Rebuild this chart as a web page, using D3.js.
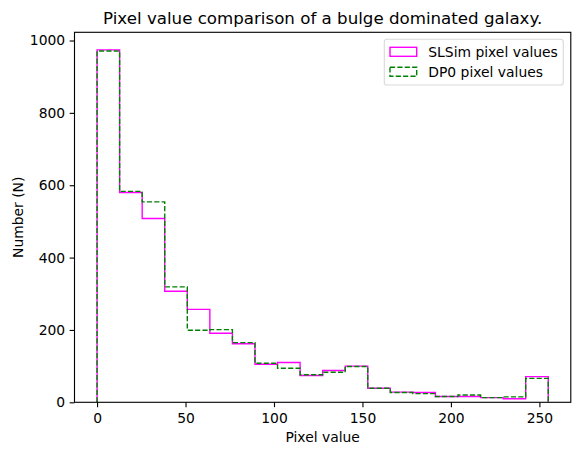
<!DOCTYPE html>
<html>
<head>
<meta charset="utf-8">
<script src="https://cdn.jsdelivr.net/npm/d3@7"></script>
<style>
  body { margin: 0; background: #fff; }
  svg text { font-family: "DejaVu Sans", sans-serif; fill: #000; }
</style>
</head>
<body>
<div id="chart"></div>
<script>
// Histogram data: 20 bins over 0..255
const binEdges = d3.range(21).map(i => i * 12.75);
const slsimCounts = [974, 580, 508, 307, 257, 191, 162, 105, 110, 74, 88, 100, 39, 28, 27, 16, 16, 13, 10, 71];
const dp0Counts   = [971, 583, 554, 319, 199, 201, 165, 108, 94, 76, 83, 99, 39, 27, 24, 16, 20, 13, 15, 66];
const xTicks = [0, 50, 100, 150, 200, 250];
const yTicks = [0, 200, 400, 600, 800, 1000];

const width = 580, height = 455;
const margin = { left: 74.5, top: 32.3 };
const plotW = 496.3, plotH = 370;

const svg = d3.select("#chart").append("svg")
  .attr("width", width)
  .attr("height", height);

const g = svg.append("g").attr("transform", `translate(${margin.left},${margin.top})`);

const ymax = d3.max(slsimCounts.concat(dp0Counts)) * 1.05;
const x = d3.scaleLinear().domain([-12.75, 267.75]).range([0, plotW]);
const y = d3.scaleLinear().domain([0, ymax]).range([plotH, 0]);

// step outline like matplotlib histtype='step'
function stepPoints(counts) {
  const pts = [[binEdges[0], 0]];
  counts.forEach((c, i) => {
    pts.push([binEdges[i], c]);
    pts.push([binEdges[i + 1], c]);
  });
  pts.push([binEdges[binEdges.length - 1], 0]);
  return pts;
}
const line = d3.line().x(d => x(d[0])).y(d => y(d[1]));

const clip = g.append("clipPath").attr("id", "clip")
  .append("rect").attr("width", plotW).attr("height", plotH);

const plot = g.append("g").attr("clip-path", "url(#clip)");

plot.append("path")
  .attr("d", line(stepPoints(slsimCounts)))
  .attr("fill", "none")
  .attr("stroke", "#ff00ff")
  .attr("stroke-width", 1.39);

plot.append("path")
  .attr("d", line(stepPoints(dp0Counts)))
  .attr("fill", "none")
  .attr("stroke", "#008000")
  .attr("stroke-width", 1.39)
  .attr("stroke-dasharray", "5.14,2.22");

// axes
const xAxis = g.append("g")
  .attr("transform", `translate(0,${plotH})`)
  .call(d3.axisBottom(x).tickValues(xTicks).tickSize(4.86).tickPadding(4.5).tickFormat(d3.format("d")));
const yAxis = g.append("g")
  .call(d3.axisLeft(y).tickValues(yTicks).tickSize(4.86).tickPadding(4.5).tickFormat(d3.format("d")));

[xAxis, yAxis].forEach(a => {
  a.select(".domain").remove();
  a.selectAll(".tick line").attr("stroke", "#000").attr("stroke-width", 1.11);
  a.selectAll(".tick text").attr("font-size", "13.89px").attr("font-family", "DejaVu Sans");
});
xAxis.selectAll(".tick text").attr("dy", null).attr("y", 0)
  .attr("transform", "translate(0,21)");

// spines
g.append("rect")
  .attr("width", plotW).attr("height", plotH)
  .attr("fill", "none").attr("stroke", "#000").attr("stroke-width", 1.11);

// title and labels
svg.append("text")
  .attr("x", margin.left + plotW / 2).attr("y", 24)
  .attr("text-anchor", "middle").attr("font-size", "16.67px")
  .text("Pixel value comparison of a bulge dominated galaxy.");

svg.append("text")
  .attr("x", margin.left + plotW / 2).attr("y", 442)
  .attr("text-anchor", "middle").attr("font-size", "13.89px")
  .text("Pixel value");

svg.append("text")
  .attr("transform", `translate(22.5,${margin.top + plotH / 2}) rotate(-90)`)
  .attr("text-anchor", "middle").attr("font-size", "13.89px")
  .text("Number (N)");

// legend
const legend = svg.append("g");
legend.append("rect")
  .attr("x", 384.3).attr("y", 39.3).attr("width", 179).attr("height", 45.7)
  .attr("rx", 2.8).attr("fill", "#fff").attr("fill-opacity", 0.8)
  .attr("stroke", "#d9d9d9").attr("stroke-width", 1.11);

const legendItems = [
  { label: "SLSim pixel values", color: "#ff00ff", dash: null },
  { label: "DP0 pixel values", color: "#008000", dash: "5.14,2.22" }
];
legendItems.forEach((d, i) => {
  const yy = 47.3 + i * 20;
  legend.append("rect")
    .attr("x", 390).attr("y", yy).attr("width", 26.7).attr("height", 9)
    .attr("fill", "none").attr("stroke", d.color).attr("stroke-width", 1.39)
    .attr("stroke-dasharray", d.dash);
  legend.append("text")
    .attr("x", 428.3).attr("y", yy + 9.6)
    .attr("font-size", "13.89px")
    .text(d.label);
});
</script>
</body>
</html>
